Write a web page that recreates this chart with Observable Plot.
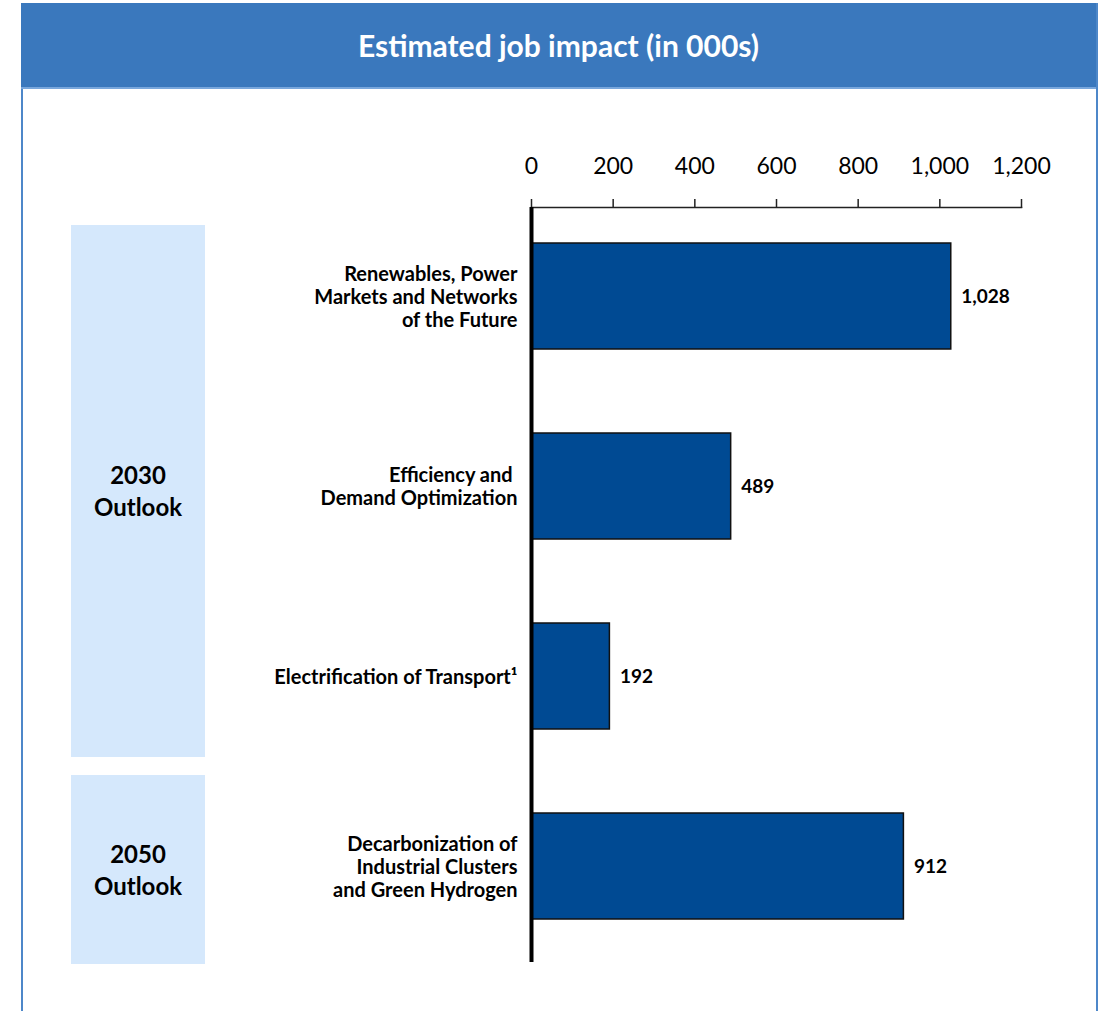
<!DOCTYPE html>
<html><head><meta charset="utf-8">
<script src="https://cdn.jsdelivr.net/npm/d3@7"></script>
<script src="https://cdn.jsdelivr.net/npm/@observablehq/plot@0.6"></script>
<style>
body{margin:0;background:#fff;font-family:Lato,"Open Sans",sans-serif;}
#wrap{position:relative;width:1100px;height:1011px;overflow:hidden;}
#frame{position:absolute;left:21px;top:3px;width:1073px;height:1030px;border-left:2px solid #4d87c9;border-right:2px solid #4d87c9;}
#header{position:absolute;left:21px;top:3px;width:1075px;height:84px;background:#3a78bd;color:#fff;font-weight:bold;font-size:30px;display:flex;align-items:center;justify-content:center;border-bottom:2px solid #79a7dc;}
.group{position:absolute;background:#d5e8fc;display:flex;align-items:center;justify-content:center;text-align:center;font-weight:bold;font-size:24px;line-height:32px;white-space:pre-line;color:#000}
#chart svg{position:absolute;left:0;top:0}
</style></head><body><div id="wrap">
<div id="frame"></div>
<div id="boxes"></div>
<div id="chart"></div>
<div id="header">Estimated job impact (in 000s)</div>
</div>
<script>
// ---- data ----
const categories = [
  "Renewables, Power\nMarkets and Networks\nof the Future",
  "Efficiency and \nDemand Optimization",
  "Electrification of Transport\u00b9",
  "Decarbonization of\nIndustrial Clusters\nand Green Hydrogen"
];
const values = [1028, 489, 192, 912];
const groups = ["2030\nOutlook", "2030\nOutlook", "2030\nOutlook", "2050\nOutlook"];
const xTicks = [0, 200, 400, 600, 800, 1000, 1200];

const data = categories.map((c, i) => ({category: c, value: values[i], group: groups[i]}));
const fmt = d3.format(",");

const chart = Plot.plot({
  width: 1100, height: 1011,
  marginLeft: 531, marginRight: 79, marginTop: 207, marginBottom: 49,
  x: {domain: [0, 1200]},
  y: {domain: categories, range: [207, 956], paddingInner: 0.44, paddingOuter: 0.183, axis: null},
  style: {background: "transparent", fontFamily: "Lato, 'Open Sans', sans-serif", color: "#000", overflow: "visible"},
  marks: [
    Plot.barX(data, {x: "value", y: "category", fill: "#004a93", stroke: "#111", strokeWidth: 1.5}),
    Plot.text(data, {x: "value", y: "category", text: d => fmt(d.value), dx: 10, textAnchor: "start", fontWeight: "bold", fontSize: 19, fill: "#000"}),
    Plot.text(data, {x: 0, y: "category", text: "category", dx: -14, textAnchor: "end", fontWeight: "bold", fontSize: 20, lineHeight: 1.15, fill: "#000"}),
    Plot.frame({anchor: "top", stroke: "#222", strokeWidth: 1.5}),
    Plot.axisX({anchor: "top", ticks: xTicks, tickSize: 9, tickPadding: 25, tickFormat: d => fmt(d), fontSize: 23, label: null, stroke: "#222", strokeWidth: 1.5}),
    Plot.ruleX([0], {stroke: "#000", strokeWidth: 4})
  ]
});
document.getElementById("chart").appendChild(chart);

// group boxes (layout), labels from data
const boxLayout = {"2030\nOutlook": [225, 757], "2050\nOutlook": [775, 964]};
const boxes = document.getElementById("boxes");
for (const g of [...new Set(groups)]) {
  const [t, b] = boxLayout[g];
  const d = document.createElement("div");
  d.className = "group";
  d.style.left = "71px"; d.style.width = "134px";
  d.style.top = t + "px"; d.style.height = (b - t) + "px";
  d.textContent = g;
  boxes.appendChild(d);
}
</script>
</body></html>
